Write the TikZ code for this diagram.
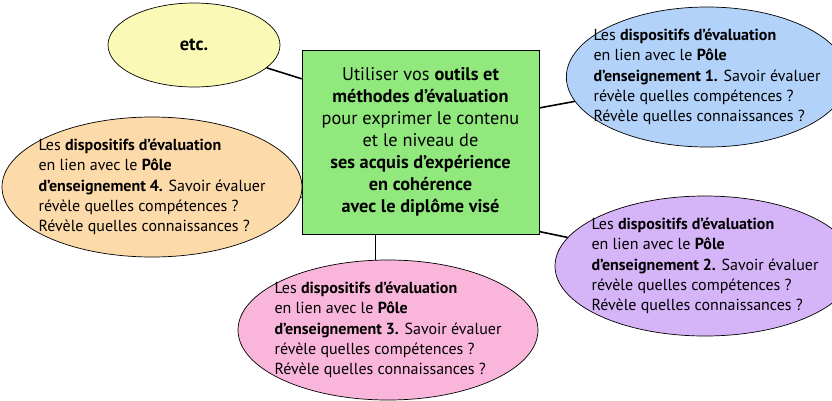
\documentclass[tikz,border=0pt]{standalone}
\usepackage{fontspec}
\setmainfont{PT Sans}
\usetikzlibrary{shapes.geometric}

\definecolor{etcfill}{RGB}{250,250,182}
\definecolor{centrefill}{RGB}{145,233,125}
\definecolor{bluefill}{RGB}{178,210,250}
\definecolor{orangefill}{RGB}{252,218,170}
\definecolor{purplefill}{RGB}{214,180,248}
\definecolor{pinkfill}{RGB}{250,182,218}

\tikzset{
  bulle/.style={ellipse, draw=black, line width=0.7pt, fill=#1,
    minimum width=300pt, minimum height=140pt, inner xsep=-14pt, inner ysep=-2pt,
    align=left, font=\fontsize{16}{20.3}\selectfont},
  lien/.style={line width=1.6pt},
}

\begin{document}
\begin{tikzpicture}[x=1pt, y=-1pt]
\useasboundingbox (0,0) rectangle (832,400);

\node[ellipse, draw=black, line width=0.7pt, fill=etcfill,
  minimum width=172pt, minimum height=84pt, font=\fontsize{18.5}{20}\selectfont\bfseries]
  (etc) at (194,45) {etc.};

\node[draw=black, line width=0.7pt, fill=centrefill, minimum width=237pt,
  minimum height=184pt, inner sep=0pt, align=center,
  font=\fontsize{18.3}{22}\selectfont]
  (centre) at (420.5,142) {Utiliser vos \textbf{outils et}\\
  \textbf{méthodes d’évaluation}\\
  pour exprimer le contenu\\
  et le niveau de\\
  \textbf{ses acquis d’expérience}\\
  \textbf{en cohérence}\\
  \textbf{avec le diplôme visé}};

% les quatre pôles
\node[bulle=bluefill, minimum width=266pt] (pole1) at (707,77) {Les \textbf{dispositifs d’évaluation}\\
  en lien avec le \textbf{Pôle}\\
  \textbf{d’enseignement 1.} Savoir évaluer\\
  révèle quelles compétences ?\\
  Révèle quelles connaissances ?};
\node[bulle=purplefill] (pole2) at (705,266) {Les \textbf{dispositifs d’évaluation}\\
  en lien avec le \textbf{Pôle}\\
  \textbf{d’enseignement 2.} Savoir évaluer\\
  révèle quelles compétences ?\\
  Révèle quelles connaissances ?};
\node[bulle=pinkfill] (pole3) at (388,330) {Les \textbf{dispositifs d’évaluation}\\
  en lien avec le \textbf{Pôle}\\
  \textbf{d’enseignement 3.} Savoir évaluer\\
  révèle quelles compétences ?\\
  Révèle quelles connaissances ?};
\node[bulle=orangefill] (pole4) at (152,187) {Les \textbf{dispositifs d’évaluation}\\
  en lien avec le \textbf{Pôle}\\
  \textbf{d’enseignement 4.} Savoir évaluer\\
  révèle quelles compétences ?\\
  Révèle quelles connaissances ?};

\draw[lien] (etc) -- (centre.152);
\draw[lien] (pole1) -- (centre.16);
\draw[lien] (pole2) -- (centre.-37);
\draw[lien] (centre.244) -- (centre.244 |- pole3.north);
\draw[lien] (pole4) -- (centre.205);
\end{tikzpicture}
\end{document}
